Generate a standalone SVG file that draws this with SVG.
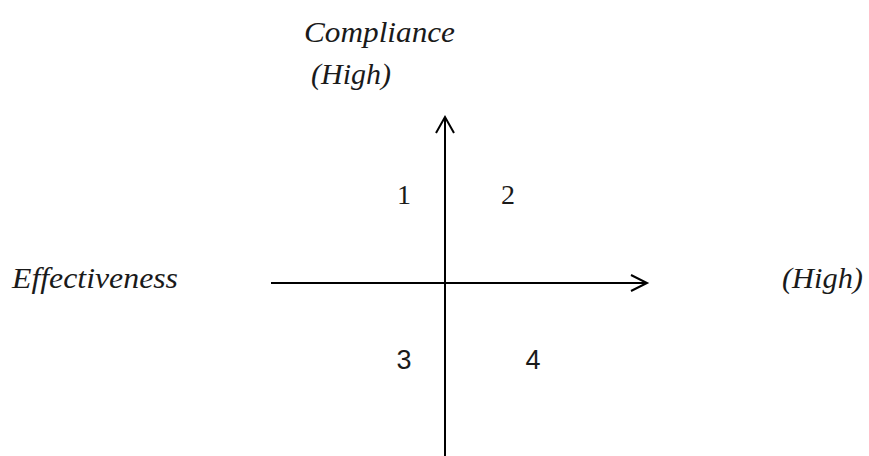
<svg xmlns="http://www.w3.org/2000/svg" width="869" height="456" viewBox="0 0 869 456">
<style>
.lbl{font-family:"Liberation Serif",serif;font-style:italic;font-size:29px;fill:#1a1a1a}
.num{font-family:"Liberation Serif",serif;font-size:28px;fill:#1a1a1a}
.num2{font-family:"Liberation Sans",sans-serif;font-size:27px;fill:#1a1a1a}
.ax{stroke:#000;stroke-width:2;fill:none}
.hd{stroke:#000;stroke-width:2;fill:none;stroke-linejoin:miter}
</style>
<rect width="869" height="456" fill="#fff"/>
<g id="connectors">
<line class="ax" x1="445" y1="118" x2="445" y2="456"/>
<polyline class="hd" points="436,133 445,117 454,133"/>
<line class="ax" x1="271" y1="283" x2="646" y2="283"/>
<polyline class="hd" points="631,275 647,283 631,291"/>
</g>
<g id="label-compliance"><text class="lbl" x="304" y="42" textLength="151" lengthAdjust="spacingAndGlyphs">Compliance</text></g>
<g id="label-high-top"><text class="lbl" x="311" y="84" textLength="80" lengthAdjust="spacingAndGlyphs">(High)</text></g>
<g id="label-effectiveness"><text class="lbl" x="12" y="288" textLength="166" lengthAdjust="spacingAndGlyphs">Effectiveness</text></g>
<g id="label-high-right"><text class="lbl" x="782" y="288" textLength="81" lengthAdjust="spacingAndGlyphs">(High)</text></g>
<g id="q1"><text class="num" x="404" y="204" text-anchor="middle">1</text></g>
<g id="q2"><text class="num" x="508" y="204" text-anchor="middle">2</text></g>
<g id="q3"><text class="num2" x="404" y="369" text-anchor="middle">3</text></g>
<g id="q4"><text class="num2" x="533" y="369" text-anchor="middle">4</text></g>
</svg>
